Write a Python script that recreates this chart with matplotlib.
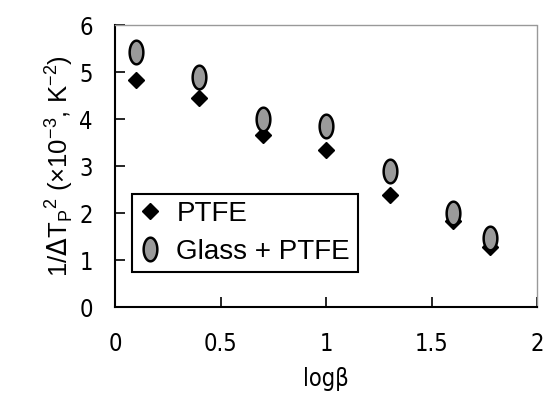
import numpy as np
import matplotlib
matplotlib.use("Agg")
import matplotlib.pyplot as plt
from matplotlib.path import Path

# data
log_beta = [0.097, 0.398, 0.699, 1.0, 1.301, 1.602, 1.778]
ptfe = [4.84, 4.44, 3.66, 3.34, 2.38, 1.82, 1.28]
glass_ptfe = [5.43, 4.89, 4.00, 3.85, 2.90, 2.01, 1.46]

x_ticks = [0, 0.5, 1, 1.5, 2]
x_tick_labels = ["0", "0.5", "1", "1.5", "2"]
y_ticks = [0, 1, 2, 3, 4, 5, 6]

tick_font = ["DejaVu Sans"]
text_font = ["Liberation Sans", "DejaVu Sans"]

# tall oval marker for the glass series
t = np.linspace(0, 2 * np.pi, 60)
oval = Path(np.column_stack([0.58 * np.cos(t), np.sin(t)]), closed=True)

fig = plt.figure(figsize=(5.43, 4.11), dpi=100)
ax = fig.add_axes([0.212, 0.253, 0.777, 0.686])

ax.plot(log_beta, ptfe, linestyle="none", marker="D", markersize=8,
        color="black", label="PTFE", zorder=3)
ax.plot(log_beta, glass_ptfe, linestyle="none", marker=oval, markersize=17,
        markerfacecolor="#9a9a9a", markeredgecolor="black", markeredgewidth=1.8,
        label="Glass + PTFE", zorder=4)

ax.set_xlim(0, 2)
ax.set_ylim(0, 6)
ax.set_xticks(x_ticks)
ax.set_xticklabels(x_tick_labels)
ax.set_yticks(y_ticks)
ax.tick_params(direction="in", length=7, width=1.2, pad=16,
               top=False, right=False)
ax.tick_params(axis="x", pad=18)
for lab in ax.get_xticklabels() + ax.get_yticklabels():
    lab.set_family(tick_font)
    lab.set_stretch("condensed")
    lab.set_fontsize(17)

for s in ["left", "bottom"]:
    ax.spines[s].set_linewidth(1.5)
for s in ["top", "right"]:
    ax.spines[s].set_color("#999999")
    ax.spines[s].set_linestyle((0, (1, 1)))
    ax.spines[s].set_linewidth(1)

ax.set_xlabel("log\u03b2", family=tick_font, stretch="condensed", fontsize=17, labelpad=8)
ax.set_ylabel("1/$\\Delta$T$_\\mathregular{P}$$^\\mathregular{2}$ (\u00d710$^\\mathregular{-3}$, K$^\\mathregular{-2}$)",
              family=text_font, fontsize=18.5, labelpad=3)

leg = ax.legend(loc="lower left", bbox_to_anchor=(0.04, 0.124, 0.536, 0.281),
                mode="expand", prop={"family": text_font, "size": 20},
                frameon=True, fancybox=False, handletextpad=0.55,
                handlelength=0.8, borderpad=0.25, labelspacing=0.45,
                borderaxespad=0)
leg.get_frame().set_edgecolor("black")
leg.get_frame().set_linewidth(1.5)
leg.get_frame().set_alpha(1)

fig.savefig("out.png", dpi=100)
